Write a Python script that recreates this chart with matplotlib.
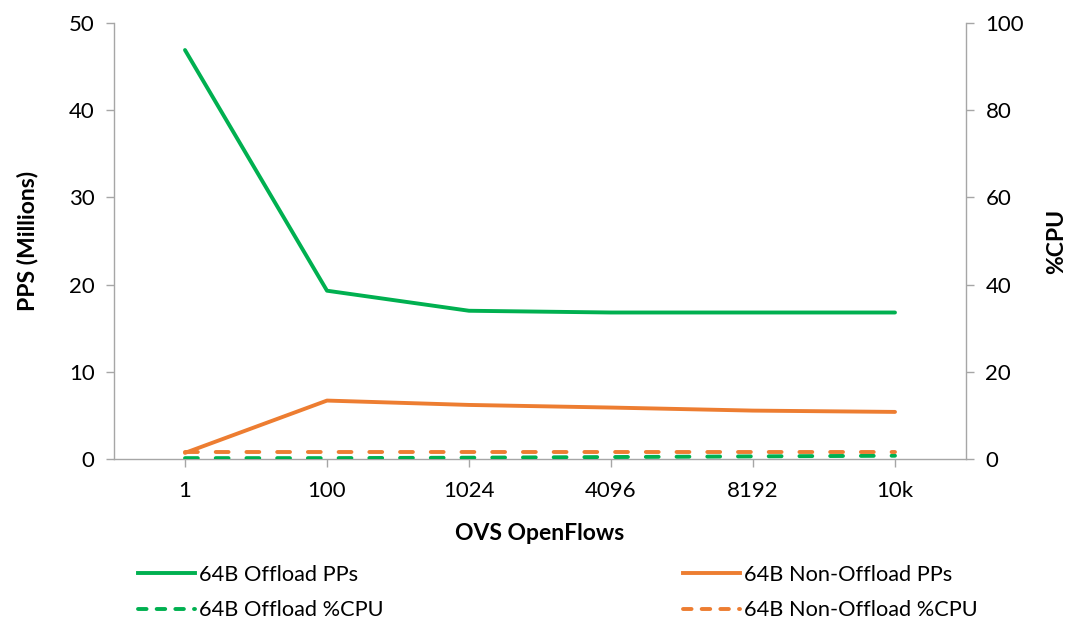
import matplotlib
matplotlib.use("Agg")
import matplotlib.pyplot as plt
from matplotlib.lines import Line2D

plt.rcParams['font.family'] = ['Lato', 'DejaVu Sans']

categories = ["1", "100", "1024", "4096", "8192", "10k"]
offload_pps = [46.9, 19.3, 17.0, 16.8, 16.8, 16.8]
nonoffload_pps = [0.7, 6.7, 6.2, 5.9, 5.55, 5.4]
offload_cpu = [0.2, 0.2, 0.3, 0.45, 0.6, 0.75]
nonoffload_cpu = [1.6, 1.6, 1.6, 1.6, 1.6, 1.6]

GREEN = "#00B050"
ORANGE = "#ED7D31"
SPINE = "#A6A6A6"

fig = plt.figure(figsize=(10.67, 6.25), dpi=100)
ax = fig.add_axes([114/1067, 1-459/625, (966-114)/1067, (459-23)/625])
ax2 = ax.twinx()

x = list(range(len(categories)))
lw = 2.8
dash = (0, (3.3, 4.6))

l1, = ax.plot(x, offload_pps, color=GREEN, lw=lw, solid_capstyle='round', label="64B Offload PPs")
l2, = ax.plot(x, nonoffload_pps, color=ORANGE, lw=lw, solid_capstyle='round', label="64B Non-Offload PPs")
l3, = ax2.plot(x, offload_cpu, color=GREEN, lw=lw, linestyle=dash, dash_capstyle='round', label="64B Offload %CPU")
l4, = ax2.plot(x, nonoffload_cpu, color=ORANGE, lw=lw, linestyle=dash, dash_capstyle='round', label="64B Non-Offload %CPU")

ax.set_xlim(-0.5, len(categories) - 0.5)
ax.set_ylim(0, 50)
ax2.set_ylim(0, 100)
ax.set_yticks([0, 10, 20, 30, 40, 50])
ax2.set_yticks([0, 20, 40, 60, 80, 100])
ax.set_xticks(x)
ax.set_xticklabels(categories)

for a in (ax, ax2):
    for s in a.spines.values():
        s.set_color(SPINE)
        s.set_linewidth(1.0)
    a.spines['top'].set_visible(False)
ax.spines['right'].set_visible(False)
ax2.spines['left'].set_visible(False)
ax2.spines['bottom'].set_visible(False)

ax.tick_params(axis='both', which='major', colors=SPINE, labelcolor='black',
               labelsize=16, length=6, width=1.0, direction='out')
ax.tick_params(axis='x', pad=10)
ax.tick_params(axis='y', pad=8)
ax2.tick_params(axis='y', colors=SPINE, labelcolor='black', labelsize=16,
                length=6, width=1.0, direction='out', pad=8)

ax.set_ylabel("PPS (Millions)", fontsize=16.5, fontweight='bold', labelpad=22)
ax2.set_ylabel("%CPU", fontsize=16.5, fontweight='bold', labelpad=16)
ax.set_xlabel("OVS OpenFlows", fontsize=16.5, fontweight='bold', labelpad=16)

leg_kw = dict(frameon=False, fontsize=15.7, handlelength=2.6, handletextpad=0.2,
              labelspacing=0.7, borderaxespad=0, borderpad=0)
h1 = Line2D([], [], color=GREEN, lw=lw)
h3 = Line2D([], [], color=GREEN, lw=lw, linestyle=(0, (2.2, 2.6)), dash_capstyle='round')
h2 = Line2D([], [], color=ORANGE, lw=lw)
h4 = Line2D([], [], color=ORANGE, lw=lw, linestyle=(0, (2.2, 2.6)), dash_capstyle='round')
leg1 = fig.legend([h1, h3], [l1.get_label(), l3.get_label()], loc='upper left',
                  bbox_to_anchor=(138/1067, 1-565/625), **leg_kw)
leg2 = fig.legend([h2, h4], [l2.get_label(), l4.get_label()], loc='upper left',
                  bbox_to_anchor=(683/1067, 1-565/625), **leg_kw)

fig.savefig("out.png", dpi=100)
